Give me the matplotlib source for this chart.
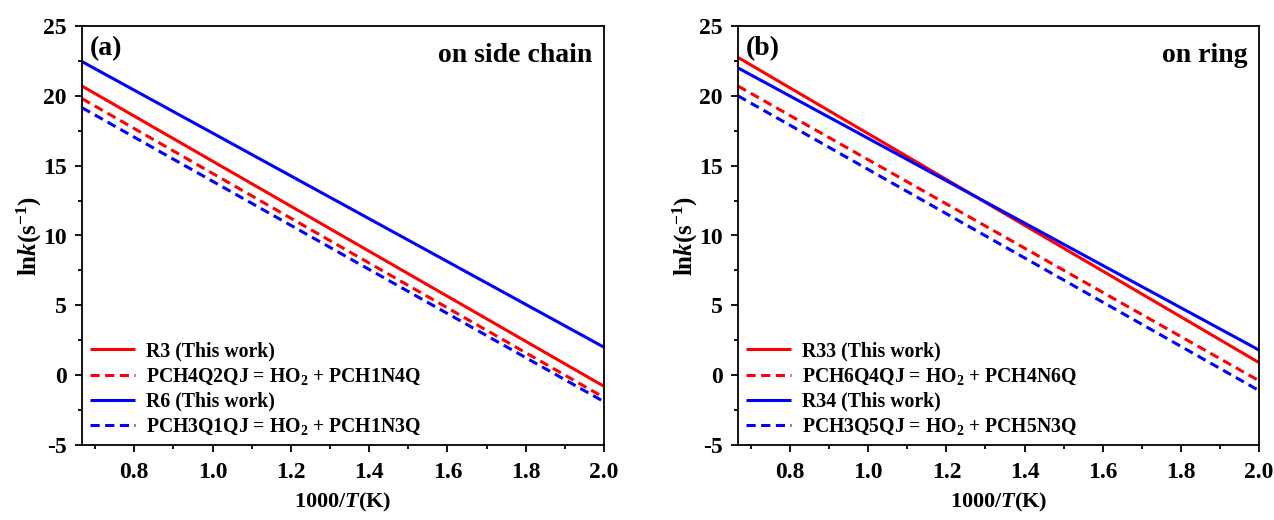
import numpy as np
import matplotlib
matplotlib.use("Agg")
import matplotlib.pyplot as plt
from matplotlib.ticker import MultipleLocator, FormatStrFormatter

plt.rcParams["font.family"] = ["Liberation Serif", "DejaVu Serif"]
plt.rcParams["font.weight"] = "bold"
plt.rcParams["axes.labelweight"] = "bold"
plt.rcParams["mathtext.fontset"] = "custom"
plt.rcParams["mathtext.rm"] = "Liberation Serif:bold"
plt.rcParams["mathtext.it"] = "Liberation Serif:italic:bold"
plt.rcParams["mathtext.bf"] = "Liberation Serif:bold"
plt.rcParams["axes.unicode_minus"] = False

# 1000/T range (K^-1): 1500 K down to 500 K
x_range = [1000 / 1500, 2.0]

# ln k at the two ends of the temperature range
side_labels = ["R3 (This work)",
               "PCH4Q2QJ = HO$_2$ + PCH1N4Q",
               "R6 (This work)",
               "PCH3Q1QJ = HO$_2$ + PCH1N3Q"]
side_lnk = [[20.7, -0.8],
            [19.8, -1.6],
            [22.45, 2.0],
            [19.15, -1.9]]

ring_labels = ["R33 (This work)",
               "PCH6Q4QJ = HO$_2$ + PCH4N6Q",
               "R34 (This work)",
               "PCH3Q5QJ = HO$_2$ + PCH5N3Q"]
ring_lnk = [[22.75, 0.9],
            [20.7, -0.4],
            [22.0, 1.8],
            [20.0, -1.1]]

colors = ["#ff0000", "#ff0000", "#0000ff", "#0000ff"]
styles = ["-", (0, (3.0, 1.8)), "-", (0, (3.0, 1.8))]

fig = plt.figure(figsize=(12.74, 5.2), dpi=100)
ax1 = fig.add_axes([82 / 1274, 1 - 445 / 520, (604 - 82) / 1274, (445 - 26) / 520])
ax2 = fig.add_axes([738 / 1274, 1 - 445 / 520, (1259 - 738) / 1274, (445 - 26) / 520])


def draw_panel(ax, labels, lnk, tag, title):
    for lab, vals, c, ls in zip(labels, lnk, colors, styles):
        ax.plot(x_range, vals, color=c, linestyle=ls, linewidth=2.2, label=lab,
                solid_capstyle="butt", dash_capstyle="butt")
    ax.set_xlim(x_range[0], 2.0)
    ax.set_ylim(-5, 25)
    ax.xaxis.set_major_locator(MultipleLocator(0.2))
    ax.xaxis.set_minor_locator(MultipleLocator(0.1))
    ax.yaxis.set_major_locator(MultipleLocator(5))
    ax.yaxis.set_minor_locator(MultipleLocator(2.5))
    ax.xaxis.set_major_formatter(FormatStrFormatter("%.1f"))
    ax.tick_params(which="both", direction="out", width=1.3, labelsize=17)
    ax.tick_params(which="major", length=5)
    ax.tick_params(axis="x", which="major", pad=7)
    ax.tick_params(axis="y", which="major", pad=6)
    ax.tick_params(which="minor", length=3)
    for s in ax.spines.values():
        s.set_linewidth(1.3)
    ax.set_xlabel("1000/$T$(K)", fontsize=16, labelpad=6)
    ax.set_ylabel("ln$k$(s$^{-1}$)", fontsize=18)
    ax.yaxis.set_label_coords(-0.072, 0.5)
    ax.text(0.015, 0.975, tag, transform=ax.transAxes, fontsize=20,
            va="top", ha="left")
    ax.text(0.977, 0.96, title, transform=ax.transAxes, fontsize=20,
            va="top", ha="right")
    ax.legend(loc="lower left", frameon=False, fontsize=14.2, handlelength=2.3,
              handletextpad=0.55, labelspacing=0.26, borderaxespad=0.0)


draw_panel(ax1, side_labels, side_lnk, "(a)", "on side chain")
draw_panel(ax2, ring_labels, ring_lnk, "(b)", "on ring")

fig.savefig("out.png", dpi=100)
